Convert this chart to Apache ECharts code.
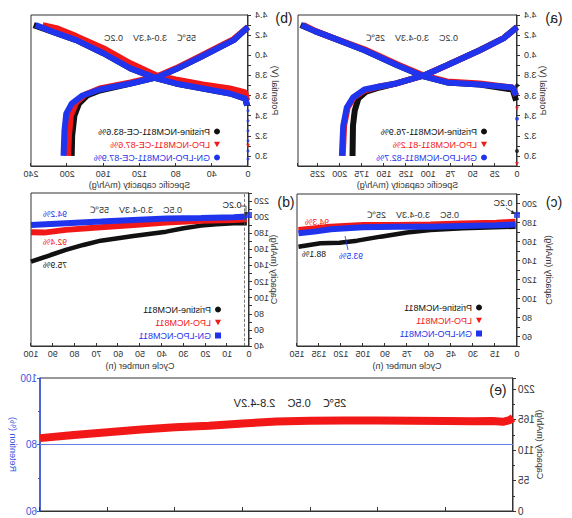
<!DOCTYPE html>
<html><head><meta charset="utf-8">
<script src="https://cdn.jsdelivr.net/npm/echarts@6/dist/echarts.min.js"></script>
<style>html,body{margin:0;padding:0;background:#fff}#c{width:572px;height:518px;transform:scaleX(-1);}</style>
</head><body><div id="c"></div>
<script>
// ---------------- DATA ----------------
// (a) 25°C voltage profiles: [specific capacity mAh/g, potential V]
const a_black_chg = [[1,3.55],[5,3.66],[42,3.71],[79,3.73],[105,3.79],[135,3.9],[172,4.05],[210,4.18],[228,4.24],[244,4.3]];
const a_red_chg   = [[1,3.6],[5,3.68],[42,3.72],[79,3.74],[105,3.8],[135,3.91],[172,4.06],[210,4.18],[227,4.24],[241,4.3]];
const a_blue_chg  = [[1,3.6],[5,3.68],[42,3.71],[79,3.73],[105,3.79],[135,3.9],[172,4.05],[210,4.18],[228,4.24],[243,4.3]];
const a_black_dis = [[0,4.28],[15,4.17],[42,4.05],[79,3.9],[105,3.8],[136,3.72],[155,3.68],[170,3.64],[179,3.57],[183,3.45],[185,3.3],[185.5,3.0]];
const a_red_dis   = [[0,4.28],[15,4.17],[42,4.05],[79,3.9],[105,3.8],[136,3.72],[155,3.69],[172,3.65],[184,3.58],[191,3.48],[195,3.3],[196.5,3.0]];
const a_blue_dis  = [[0,4.28],[15,4.17],[42,4.05],[79,3.9],[105,3.8],[136,3.72],[155,3.69],[172,3.66],[185,3.58],[192,3.48],[196,3.3],[197.5,3.0]];
// open-circuit start points (isolated dots at zero capacity)
const a_black_ocv = [[0,3.05],[0,3.7]];
const a_red_ocv   = [[0,3.47],[0,2.92]];
const a_blue_ocv  = [[0,3.37]];
const a_names = ['Pristine-NCM811-76.9%','LPO-NCM811-81.2%','GN-LPO-NCM811-82.7%'];

// (b) 55°C voltage profiles
const b_black_chg = [[1,3.5],[3,3.57],[20,3.62],[50,3.67],[80,3.72],[101,3.77],[130,3.87],[160,4.02],[190,4.15],[215,4.23],[237,4.3]];
const b_red_chg   = [[1,3.55],[3,3.63],[20,3.67],[50,3.71],[80,3.76],[101,3.8],[130,3.92],[160,4.07],[190,4.19],[212,4.27],[227,4.3]];
const b_blue_chg  = [[1,3.5],[3,3.57],[20,3.62],[50,3.67],[80,3.72],[101,3.77],[130,3.87],[160,4.02],[190,4.15],[215,4.23],[235,4.3]];
const b_black_dis = [[0,4.28],[16,4.15],[53,3.98],[80,3.86],[101,3.78],[130,3.72],[164,3.65],[178,3.6],[187,3.52],[192,3.4],[194.5,3.2],[195,3.0]];
const b_red_dis   = [[0,4.28],[16,4.16],[53,3.99],[80,3.87],[101,3.79],[130,3.73],[164,3.67],[180,3.61],[190,3.53],[196,3.4],[198,3.2],[199,3.0]];
const b_blue_dis  = [[0,4.28],[16,4.15],[53,3.98],[80,3.86],[101,3.78],[130,3.72],[164,3.66],[183,3.6],[195,3.52],[201,3.42],[203,3.25],[204,3.0]];
const b_red_ocv   = [[0,3.1]];
const b_blue_ocv  = [[0,3.45],[0,3.35],[0,3.25],[0,3.15],[0,3.05],[0,2.97]];
const b_names = ['Pristine-NCM811-CE-83.6%','LPO-NCM811-CE-87.6%','GN-LPO-NCM811-CE-87.9%'];

// (c) 25°C cycling: [cycle, capacity mAh/g]
const c_black = [[1,175.6],[15,175],[37,173.9],[59,172.1],[75,169.4],[93,165.1],[109,160.9],[121,158.8],[134,158.1],[149,154.5]];
const c_red   = [[1,180.9],[14,179.8],[37,179],[59,178],[82,177.4],[105,177.4],[127,175.6],[149,172.1]];
const c_blue  = [[1,178],[14,177],[37,176.3],[59,175.6],[82,175.6],[105,174.9],[127,172.8],[138,170.4],[149,168.6]];
const c_blue_02C = [[0,188]];

// (d) 55°C cycling
const d_black = [[1,192.4],[7,192.4],[15,191.2],[22,189.5],[30,186.2],[38,182],[53,176.6],[68,170.8],[76,165.5],[84,159.3],[91,153],[100,144.7]];
const d_red   = [[1,197.5],[7,196.6],[22,195.4],[38,193.3],[53,190.4],[68,187.5],[84,184.2],[94,180.8],[100,181.2]];
const d_blue  = [[1,200.7],[7,200],[22,199.1],[38,198.3],[53,196.6],[68,194.5],[84,192.4],[100,190.3]];
const d_blue_02C = [[0,202.7]];
const d_rateSwitchCycle = 2;
const cd_names = ['Pristine-NCM811','LPO-NCM811','GN-LPO-NCM811'];

// (e) long cycling 25°C
const e_cycles = [0,5,15,30,60,100,150,200,250,300,350,400,450,500,550,600,650,700];
const e_capacity = [168,164,161,162.5,162,162.5,163,163.5,163.5,163,161.5,158,154,151,147,142,137,131.5];
const e_retentionRefX = [0,700];
const e_retentionRefY = [80,80];

// ---------------- STYLE ----------------
const FONT = '"Liberation Sans", Arial, sans-serif';
const BLK = '#111111', RED = '#f21818', BLU = '#1f34ec', AX = '#333', RBLU = '#3a55e0';
const TRI = 'path://M0,0L10,0L5,9Z';
const LW = 6;

const gridBase = {show:true, borderColor:'#333', borderWidth:1, backgroundColor:'transparent', containLabel:false, outerBoundsMode:'none'};
const grid = [
  Object.assign({left:55, right:298, top:15, bottom:352}, gridBase),
  Object.assign({left:324, right:31, top:15, bottom:352}, gridBase),
  Object.assign({left:55, right:297, top:194, bottom:172}, gridBase),
  Object.assign({left:323, right:31, top:193, bottom:172}, gridBase),
  Object.assign({left:59, right:40, top:378, bottom:7}, gridBase)
];

const lbl = (o) => Object.assign({fontSize:9, color:AX, fontFamily:FONT}, o||{});
const axLine = {show:true, lineStyle:{color:'#333', width:1}};
const nameStyle = (c) => ({fontSize:9, color:c||AX, fontFamily:FONT});

function xAxisDef(gi, min, max, interval, fmt, name, gap) {
  return {type:'value', gridIndex:gi, min, max, interval, splitLine:{show:false},
    axisLine:axLine, axisTick:{show:true, inside:true, length:3, lineStyle:{color:'#333'}},
    axisLabel:lbl({margin:3, formatter:fmt}),
    name, nameLocation:'middle', nameGap:gap, nameMoveOverlap:false, nameTextStyle:nameStyle()};
}
function yAxisDef(gi, min, max, interval, fmt, name, gap, margin) {
  return {type:'value', gridIndex:gi, min, max, interval, splitLine:{show:false},
    axisLine:axLine, axisTick:{show:true, inside:false, length:3, lineStyle:{color:'#333'}},
    axisLabel:lbl({margin:margin, formatter:fmt}),
    name, nameLocation:'middle', nameGap:gap, nameMoveOverlap:false, nameTextStyle:nameStyle()};
}
const vFmt = v => { const t = Math.round(v*10); return (t % 2 === 0 && t >= 30) ? (t/10).toFixed(1) : ''; };
const every = (step, lo, hi) => v => { const r = Math.round(v); return (r % step === 0 && r >= lo && r <= hi) ? String(r) : ''; };

const xAxis = [
  xAxisDef(0, 0, 247, 25, every(25, 0, 225), 'Specific capacity (mAh/g)', 14),
  xAxisDef(1, 0, 240, 40, every(40, 0, 240), 'Specific capacity (mAh/g)', 14),
  xAxisDef(2, 0, 150, 15, every(15, 0, 150), 'Cycle number (n)', 15),
  xAxisDef(3, 0, 100, 10, every(10, 0, 100), 'Cycle number (n)', 15),
  {type:'value', gridIndex:4, min:0, max:700, interval:100, splitLine:{show:false},
   axisLine:axLine, axisTick:{show:true, inside:true, length:4, lineStyle:{color:'#333'}},
   axisLabel:{show:false}}
];
const yAxis = [
  yAxisDef(0, 2.9, 4.4, 0.1, vFmt, 'Potential (V)', 21, 7),
  yAxisDef(1, 2.9, 4.4, 0.1, vFmt, 'Potential (V)', 22, 7),
  yAxisDef(2, 50, 210, 10, every(20, 60, 200), 'Capacity (mAh/g)', 27, 5),
  yAxisDef(3, 40, 230, 10, every(20, 40, 220), 'Capacity (mAh/g)', 20, 5),
  {type:'value', gridIndex:4, min:0, max:240, interval:55, position:'left', splitLine:{show:false},
   axisLine:axLine, axisTick:{show:true, length:3, lineStyle:{color:'#333'}},
   minorTick:{show:true, splitNumber:2, length:2, lineStyle:{color:'#333'}},
   axisLabel:lbl({fontSize:10, margin:5, formatter: every(55, 0, 220)}),
   name:'Capacity (mAh/g)', nameLocation:'middle', nameGap:22, nameMoveOverlap:false, nameTextStyle:nameStyle()},
  {type:'value', gridIndex:4, min:60, max:100, interval:20, position:'right', splitLine:{show:false},
   axisLine:{show:true, lineStyle:{color:RBLU, width:1.5}},
   axisTick:{show:true, length:3, lineStyle:{color:RBLU}},
   minorTick:{show:true, splitNumber:2, length:2, lineStyle:{color:RBLU}},
   axisLabel:lbl({fontSize:10, margin:3, color:RBLU}),
   name:'Retention (%)', nameLocation:'middle', nameGap:23, nameMoveOverlap:false, nameTextStyle:nameStyle(RBLU)}
];

function ser(name, data, color, gi, yi, width) {
  return {type:'line', name, data, xAxisIndex:gi, yAxisIndex:(yi===undefined?gi:yi), showSymbol:false, symbol:'none',
    lineStyle:{color, width:width||LW}, itemStyle:{color}, emphasis:{disabled:true}, silent:true, z:3};
}
function dots(name, data, color, gi, sym, size) {
  return {type:'scatter', name, data, xAxisIndex:gi, yAxisIndex:gi, symbol:sym||'circle', symbolSize:size||4,
    itemStyle:{color}, emphasis:{disabled:true}, silent:true, z:4, clip:false};
}

const series = [
  ser(a_names[0], a_black_chg, BLK, 0), ser(a_names[0], a_black_dis, BLK, 0), dots(a_names[0], a_black_ocv, BLK, 0),
  ser(a_names[1], a_red_chg, RED, 0),   ser(a_names[1], a_red_dis, RED, 0),   dots(a_names[1], a_red_ocv, RED, 0, TRI),
  ser(a_names[2], a_blue_chg, BLU, 0),  ser(a_names[2], a_blue_dis, BLU, 0),  dots(a_names[2], a_blue_ocv, BLU, 0),
  ser(b_names[0], b_black_chg, BLK, 1), ser(b_names[0], b_black_dis, BLK, 1),
  ser(b_names[1], b_red_chg, RED, 1),   ser(b_names[1], b_red_dis, RED, 1),   dots(b_names[1], b_red_ocv, RED, 1, TRI),
  ser(b_names[2], b_blue_chg, BLU, 1),  ser(b_names[2], b_blue_dis, BLU, 1),  dots(b_names[2], b_blue_ocv, BLU, 1, 'circle', 3),
  ser(cd_names[0], c_black, BLK, 2, 2, 4.5), ser(cd_names[1], c_red, RED, 2, 2, 6), ser(cd_names[2], c_blue, BLU, 2, 2, 6),
  dots(cd_names[2], c_blue_02C, BLU, 2, 'rect', 6),
  ser(cd_names[0], d_black, BLK, 3, 3, 4.5), ser(cd_names[1], d_red, RED, 3, 3, 6), ser(cd_names[2], d_blue, BLU, 3, 3, 6),
  dots(cd_names[2], d_blue_02C, BLU, 3, 'rect', 6),
  Object.assign(ser('rateSwitch', [], BLK, 3), {markLine:{silent:true, symbol:'none', label:{show:false},
    lineStyle:{color:'#555', type:'dashed', width:0.8}, data:[{xAxis:d_rateSwitchCycle}]}}),
  ser('Retention80', e_retentionRefX.map((x,i)=>[x, e_retentionRefY[i]]), '#6a7fe6', 4, 5, 1),
  ser('CapacityE', e_cycles.map((c,i)=>[c, e_capacity[i]]), RED, 4, 4, 8)
];

function legendDef(names, left, top, blueIcon) {
  return {orient:'vertical', left, top, itemWidth:6, itemHeight:6, itemGap:4, selectedMode:false,
    textStyle:{fontSize:9, fontFamily:FONT, padding:[0,0,0,-1]},
    data:[{name:names[0], icon:'circle', textStyle:{color:BLK}},
          {name:names[1], icon:TRI, textStyle:{color:RED}},
          {name:names[2], icon:blueIcon, textStyle:{color:BLU}}]};
}
const legend = [
  legendDef(a_names, 80, 122, 'circle'),
  legendDef(b_names, 347, 122, 'circle'),
  legendDef(cd_names, 85, 298, 'rect'),
  legendDef(cd_names, 346, 300, 'rect')
];

function txt(x, y, s, color, size, weight) {
  return {type:'text', x, y, silent:true, z:10,
    style:{text:s, fill:color||AX, font:(weight||'normal')+' '+(size||9)+'px '+FONT,
      textAlign:'center', textVerticalAlign:'middle', align:'center', verticalAlign:'middle'}};
}
function seg(x1,y1,x2,y2,color){ return {type:'line', silent:true, z:10, shape:{x1,y1,x2,y2}, style:{stroke:color||'#333', lineWidth:0.8}}; }
function head(pts, color){ return {type:'polygon', silent:true, z:10, shape:{points:pts}, style:{fill:color||'#333'}}; }

const graphic = [
  txt(18, 18, '(a)', '#222', 14), txt(288, 18, '(b)', '#222', 14),
  txt(18, 202, '(c)', '#222', 14), txt(286, 202, '(d)', '#222', 14),
  txt(74, 390, '(e)', '#222', 14),
  txt(160, 38, '0.2C    3.0-4.3V    25℃'),
  txt(422, 38, '55℃    3.0-4.3V    0.2C'),
  txt(159, 215, '0.5C    3.0-4.3V    25℃'),
  txt(436, 210, '0.5C    3.0-4.3V    55℃'),
  txt(282, 403, '25℃    0.5C    2.8-4.2V', '#222', 11),
  txt(255, 222, '94.3%', RED, 8.5), txt(258, 254, '88.1%', BLK, 8.5), txt(221, 256, '93.5%', BLU, 8.5),
  seg(224, 250, 227, 236, BLU),
  txt(517, 214, '94.2%', BLU, 8.5), txt(517, 242, '92.4%', RED, 8.5), txt(517, 265, '75.9%', BLK, 8.5),
  txt(69, 203, '0.2C', '#222', 9), seg(66, 208, 58, 213), head([[56,214],[60,210],[61,214]]),
  txt(340, 205, '0.2C', '#222', 9), seg(331, 206, 326, 206), seg(326, 206, 326, 212), head([[324,212],[328,212],[326,216]])
];

const chart = echarts.init(document.getElementById('c'), null, {renderer:'svg', width:572, height:518});
chart.setOption({animation:false, backgroundColor:'#fff', grid, xAxis, yAxis, series, legend, graphic});
</script></body></html>
